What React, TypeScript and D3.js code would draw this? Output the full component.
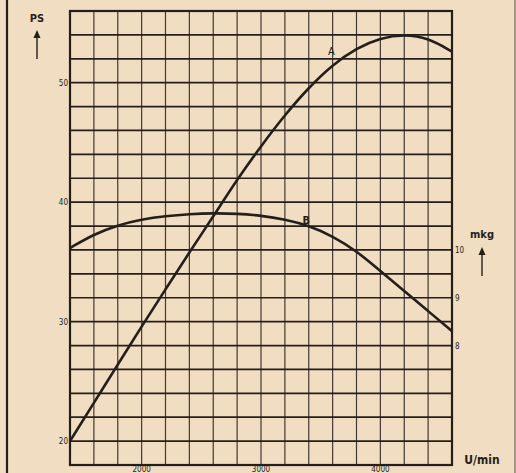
import * as d3 from "d3";

// engine speed grid (U/min) and the two curves
const rpm = [1400, 1600, 1800, 2000, 2200, 2400, 2600, 2800, 3000, 3200, 3400, 3600, 3800, 4000, 4200, 4400, 4600];
const powerPs = [20, 23.2, 26.4, 29.6, 32.7, 35.8, 38.8, 41.9, 44.7, 47.3, 49.6, 51.5, 52.9, 53.75, 54.05, 53.75, 52.6];
const torqueMkg = [10.04, 10.33, 10.52, 10.64, 10.71, 10.75, 10.77, 10.76, 10.72, 10.64, 10.51, 10.29, 9.98, 9.56, 9.14, 8.72, 8.3];

const psTicks = [20, 30, 40, 50];
const mkgTicks = [8, 9, 10];
const rpmTicks = [2000, 3000, 4000];

const width = 516;
const height = 473;
const ink = "#241f1b";
const paper = "#f1ddc1";
const font = "'DejaVu Sans Condensed', 'DejaVu Sans', sans-serif";

export default function App() {
  const x = d3.scaleLinear([1400, 4600], [70, 452]);
  const yPs = d3.scaleLinear([18, 56], [465, 11]);
  const yMkg = d3.scaleLinear([5.5, 15], [465, 11]);

  const gridX = d3.range(1400, 4601, 200);
  const gridY = d3.range(18, 57, 2);

  const powerLine = d3
    .line<number>()
    .x((_, i) => x(rpm[i]))
    .y((v) => yPs(v))
    .curve(d3.curveBasis);
  const torqueLine = d3
    .line<number>()
    .x((_, i) => x(rpm[i]))
    .y((v) => yMkg(v))
    .curve(d3.curveBasis);

  const [x0, x1] = x.range();
  const [yb, yt] = yPs.range();

  return (
    <>
      <style>{"body{margin:0;overflow:hidden}"}</style>
      <svg width={width} height={height} viewBox={`0 0 ${width} ${height}`} style={{ display: "block" }}>
        <rect x="0" y="0" width={width} height={height} fill={paper} />
        <line x1="7" x2="7" y1="0" y2={height} stroke={ink} strokeWidth="2.2" />
        <line x1="515" x2="515" y1="0" y2={height} stroke={ink} strokeWidth="1.2" opacity="0.6" />

        {gridX.map((v) => (
          <line key={`gx${v}`} x1={x(v)} x2={x(v)} y1={yt} y2={yb} stroke={ink} strokeWidth="1.2" opacity="0.85" />
        ))}
        {gridY.map((v) => (
          <line key={`gy${v}`} x1={x0} x2={x1} y1={yPs(v)} y2={yPs(v)} stroke={ink} strokeWidth="1.7" />
        ))}
        <rect x={x0} y={yt} width={x1 - x0} height={yb - yt} fill="none" stroke={ink} strokeWidth="2.2" />

        <path d={powerLine(powerPs) ?? undefined} fill="none" stroke={ink} strokeWidth="2.6" />
        <path d={torqueLine(torqueMkg) ?? undefined} fill="none" stroke={ink} strokeWidth="2.6" />

        <text x={x(3590)} y={yPs(52.3)} fontFamily={font} fontSize="11" fill={ink} textAnchor="middle">A</text>
        <text x={x(3380)} y={yMkg(10.55)} fontFamily={font} fontSize="11" fontWeight="bold" fill={ink} textAnchor="middle">B</text>

        {psTicks.map((t) => (
          <text key={`ps${t}`} x={x0 - 2} y={yPs(t) + 3} fontFamily={font} fontSize="8" fill={ink} textAnchor="end">
            {t}
          </text>
        ))}
        {mkgTicks.map((t) => (
          <text key={`mkg${t}`} x={x1 + 3} y={yMkg(t) + 3} fontFamily={font} fontSize="8" fill={ink}>
            {t}
          </text>
        ))}
        {rpmTicks.map((t) => (
          <text key={`rpm${t}`} x={x(t)} y={472} fontFamily={font} fontSize="8" fill={ink} textAnchor="middle">
            {t}
          </text>
        ))}

        <text x="37" y="22" fontFamily={font} fontSize="11" fontWeight="bold" fill={ink} textAnchor="middle">PS</text>
        <line x1="37" x2="37" y1="59" y2="34" stroke={ink} strokeWidth="1.4" />
        <path d="M33.5,38 L37,30 L40.5,38 Z" fill={ink} />

        <text x="482" y="238" fontFamily={font} fontSize="11" fontWeight="bold" fill={ink} textAnchor="middle">mkg</text>
        <line x1="482" x2="482" y1="276" y2="251" stroke={ink} strokeWidth="1.4" />
        <path d="M478.5,255 L482,247 L485.5,255 Z" fill={ink} />

        <text x="482" y="464" fontFamily={font} fontSize="12" fontWeight="bold" fill={ink} textAnchor="middle">U/min</text>
      </svg>
    </>
  );
}
